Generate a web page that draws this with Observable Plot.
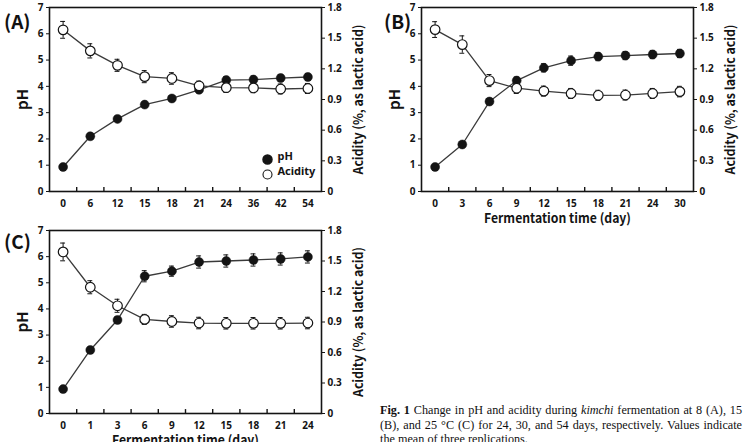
<!DOCTYPE html>
<html>
<head>
<meta charset="utf-8">
<script src="https://cdn.jsdelivr.net/npm/d3@7"></script>
<script src="https://cdn.jsdelivr.net/npm/@observablehq/plot@0.6"></script>
<style>
  html, body { margin: 0; padding: 0; background: #fff; }
  body { width: 744px; height: 442px; overflow: hidden; position: relative; color: #111; }
  .panel { position: absolute; }
  .panel svg { overflow: visible; }
  .tag { position: absolute; font: 700 19px "Noto Sans CJK KR", "Noto Sans", sans-serif; line-height: 1; }
  .caption { position: absolute; left: 380px; top: 403px; width: 362px;
             font: 12.2px/14.6px "Liberation Serif", "Times New Roman", serif;
             text-align: justify; text-align-last: left; color: #111; }
</style>
</head>
<body>
<div class="panel" id="pA" style="left:0;top:0"></div>
<div class="panel" id="pB" style="left:372px;top:0"></div>
<div class="panel" id="pC" style="left:0;top:220px"></div>
<div class="tag" style="left:4px;top:11px">(A)</div>
<div class="tag" style="left:384px;top:11px">(B)</div>
<div class="tag" style="left:4px;top:231px">(C)</div>
<div class="caption"><b>Fig. 1</b> Change in pH and acidity during <i>kimchi</i> fermentation at 8 (A), 15 (B), and 25&nbsp;°C (C) for 24, 30, and 54 days, respectively. Values indicate the mean of three replications.</div>
<script>
// Fermentation days (category labels on the x axis)
const daysA = ["0", "6", "12", "15", "18", "21", "24", "36", "42", "54"];
const daysB = ["0", "3", "6", "9", "12", "15", "18", "21", "24", "30"];
const daysC = ["0", "1", "3", "6", "9", "12", "15", "18", "21", "24"];

// Open circles, read on the left axis (pH), with error bars
const phA = [6.15, 5.35, 4.80, 4.37, 4.30, 4.02, 3.95, 3.94, 3.90, 3.92];
const phErrA = [0.32, 0.27, 0.23, 0.23, 0.22, 0.18, 0.18, 0.18, 0.19, 0.19];
const phB = [6.16, 5.59, 4.22, 3.93, 3.82, 3.73, 3.66, 3.67, 3.73, 3.80];
const phErrB = [0.30, 0.33, 0.23, 0.20, 0.19, 0.19, 0.19, 0.19, 0.19, 0.20];
const phC = [6.18, 4.83, 4.12, 3.60, 3.52, 3.46, 3.45, 3.45, 3.45, 3.46];
const phErrC = [0.34, 0.25, 0.25, 0.19, 0.22, 0.22, 0.22, 0.22, 0.22, 0.22];

// Filled circles, read on the right axis (acidity, % as lactic acid)
const acidA = [0.24, 0.54, 0.71, 0.85, 0.91, 0.995, 1.09, 1.095, 1.11, 1.12];
const acidErrA = [0.02, 0.02, 0.025, 0.025, 0.025, 0.03, 0.035, 0.035, 0.035, 0.035];
const acidB = [0.24, 0.46, 0.88, 1.085, 1.21, 1.28, 1.32, 1.33, 1.34, 1.35];
const acidErrB = [0.02, 0.02, 0.03, 0.035, 0.04, 0.045, 0.04, 0.04, 0.04, 0.04];
const acidC = [0.24, 0.625, 0.92, 1.35, 1.40, 1.49, 1.50, 1.51, 1.52, 1.54];
const acidErrC = [0.02, 0.025, 0.03, 0.055, 0.05, 0.06, 0.06, 0.06, 0.06, 0.06];

// Axis ticks and titles
const phTicks = [0, 1, 2, 3, 4, 5, 6, 7];
const acidTicks = [0, 0.3, 0.6, 0.9, 1.2, 1.5, 1.8];
const leftTitle = "pH";
const rightTitle = "Acidity (%, as lactic acid)";
const bottomTitle = "Fermentation time (day)";

// Acidity shares the pH scale: 1.8 % sits at pH 7
const K = 7 / 1.8;
const INK = "#141414";
const LINE = "#3a3a3a";
const TICK_FONT = "'Noto Sans', sans-serif";
const TITLE_FONT = "'Noto Sans CJK KR', 'Noto Sans', sans-serif";

function panel({days, ph, phErr, acid, acidErr, height, marginTop, marginBottom, legend, xTitle}) {
  const idx = days.map((d, i) => i);
  const open = idx.map(i => ({i, y: ph[i], e: phErr[i]}));
  const filled = idx.map(i => ({i, y: acid[i] * K, e: acidErr[i] * K}));
  const bounds = idx.slice(1).map(i => i - 0.5);
  const cap = 0.09;

  const errorBars = (data) => [
    Plot.ruleX(data, {x: "i", y1: d => d.y - d.e, y2: d => d.y + d.e, stroke: INK, strokeWidth: 1}),
    Plot.ruleY(data, {y: d => d.y + d.e, x1: d => d.i - cap, x2: d => d.i + cap, stroke: INK, strokeWidth: 1}),
    Plot.ruleY(data, {y: d => d.y - d.e, x1: d => d.i - cap, x2: d => d.i + cap, stroke: INK, strokeWidth: 1})
  ];

  const marks = [
    Plot.frame({stroke: INK, strokeWidth: 1.6}),
    // category separators on the bottom axis, pointing inward
    Plot.ruleX(bounds, {x: d => d, y1: 0, y2: 0.15, stroke: INK, strokeWidth: 1.4}),
    Plot.axisX(idx, {tickSize: 0, tickPadding: 8, tickFormat: i => days[i], fontSize: 10, fontWeight: 700, fontFamily: TICK_FONT, label: null}),
    Plot.axisY(phTicks, {anchor: "left", tickSize: 3, tickPadding: 3, fontSize: 10, fontWeight: 700, fontFamily: TICK_FONT, label: null, stroke: INK}),
    Plot.axisY(acidTicks.map(a => a * K), {anchor: "right", tickSize: 3, tickPadding: 3, fontSize: 10, fontWeight: 700, fontFamily: TICK_FONT, label: null, stroke: INK,
      tickFormat: v => { const a = Math.round(v / K * 10) / 10; return a === 0 ? "0" : a.toFixed(1); }}),
    Plot.text([leftTitle], {frameAnchor: "left", textAnchor: "middle", rotate: -90, dx: -26, fontSize: 15, fontWeight: 700, fontFamily: TITLE_FONT, fill: INK}),
    Plot.text([rightTitle], {frameAnchor: "right", textAnchor: "middle", rotate: -90, dx: 37, fontSize: 13, fontWeight: 700, fontFamily: TITLE_FONT, fill: INK}),
    ...errorBars(filled),
    ...errorBars(open),
    Plot.line(open, {x: "i", y: "y", stroke: LINE, strokeWidth: 1.3}),
    Plot.line(filled, {x: "i", y: "y", stroke: LINE, strokeWidth: 1.3}),
    Plot.dot(filled, {x: "i", y: "y", r: 4.5, fill: INK, stroke: INK, strokeWidth: 0.5}),
    Plot.dot(open, {x: "i", y: "y", r: 4.8, fill: "white", stroke: INK, strokeWidth: 1.2})
  ];

  if (xTitle) {
    marks.push(Plot.text([xTitle], {frameAnchor: "bottom", textAnchor: "middle", dy: 31, fontSize: 13, fontWeight: 700, fontFamily: TITLE_FONT, fill: INK}));
  }
  if (legend) {
    marks.push(
      Plot.dot(["pH"], {frameAnchor: "bottom-right", dx: -54, dy: -32, r: 4.5, fill: INK, stroke: INK}),
      Plot.dot(["Acidity"], {frameAnchor: "bottom-right", dx: -54, dy: -17, r: 4.5, fill: "white", stroke: INK, strokeWidth: 1.1}),
      Plot.text(["pH"], {frameAnchor: "bottom-right", dx: -44, dy: -32, textAnchor: "start", fontSize: 11, fontWeight: 700, fontFamily: TICK_FONT, fill: INK}),
      Plot.text(["Acidity"], {frameAnchor: "bottom-right", dx: -44, dy: -17, textAnchor: "start", fontSize: 11, fontWeight: 700, fontFamily: TICK_FONT, fill: INK})
    );
  }

  const svg = Plot.plot({
    width: 372,
    height,
    marginLeft: 49,
    marginRight: 51,
    marginTop,
    marginBottom,
    style: {background: "transparent", color: INK, overflow: "visible"},
    x: {type: "linear", domain: [-0.5, idx.length - 0.5]},
    y: {domain: [0, 7]},
    marks
  });

  // the axis titles are set in a condensed bold face: fit them to their printed length
  const fitted = {[rightTitle]: 150, [bottomTitle]: 147};
  d3.select(svg).selectAll("text").each(function () {
    const len = fitted[this.textContent];
    if (len) d3.select(this).attr("textLength", len).attr("lengthAdjust", "spacingAndGlyphs");
  });
  return svg;
}

document.getElementById("pA").append(panel({
  days: daysA, ph: phA, phErr: phErrA, acid: acidA, acidErr: acidErrA,
  height: 220, marginTop: 7, marginBottom: 29, legend: true, xTitle: null
}));
document.getElementById("pB").append(panel({
  days: daysB, ph: phB, phErr: phErrB, acid: acidB, acidErr: acidErrB,
  height: 220, marginTop: 7, marginBottom: 29, legend: false, xTitle: bottomTitle
}));
document.getElementById("pC").append(panel({
  days: daysC, ph: phC, phErr: phErrC, acid: acidC, acidErr: acidErrC,
  height: 240, marginTop: 10, marginBottom: 47, legend: false, xTitle: bottomTitle
}));
</script>
</body>
</html>
